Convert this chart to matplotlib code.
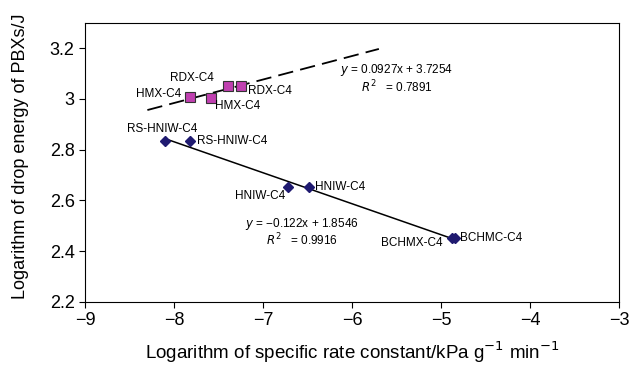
import matplotlib.pyplot as plt

plt.rcParams['font.family'] = ['Liberation Sans', 'DejaVu Sans']

# donnees
sq_x = [-7.82, -7.59, -7.40, -7.25]
sq_y = [3.007, 3.003, 3.052, 3.050]
sq_lab = ['HMX-C4', 'HMX-C4', 'RDX-C4', 'RDX-C4']

di_x = [-8.10, -7.82, -6.72, -6.49, -4.88, -4.85]
di_y = [2.835, 2.835, 2.652, 2.652, 2.450, 2.450]
di_lab = ['RS-HNIW-C4', 'RS-HNIW-C4', 'HNIW-C4', 'HNIW-C4', 'BCHMX-C4', 'BCHMC-C4']

# droites de tendance (extremites)
fit1_x = [-8.30, -5.70]
fit1_y = [2.956, 3.197]
fit2_x = [-8.10, -4.86]
fit2_y = [2.843, 2.447]

xticks = [-9, -8, -7, -6, -5, -4, -3]
yticks = [2.2, 2.4, 2.6, 2.8, 3.0, 3.2]
yticklabels = ['2.2', '2.4', '2.6', '2.8', '3', '3.2']

fig = plt.figure(figsize=(6.3, 3.68), dpi=100)
ax = fig.add_axes([0.135, 0.18, 0.848, 0.758])

ax.plot(fit1_x, fit1_y, color='black', lw=1.3, dashes=(8.5, 4))
ax.plot(fit2_x, fit2_y, color='black', lw=1.1)

ax.plot(sq_x, sq_y, 's', ms=7, mfc='#c040b0', mec='#333333', mew=0.8, ls='none')
ax.plot(di_x, di_y, 'D', ms=5.5, mfc='#1f1a70', mec='#1f1a70', ls='none')

fs = 8.5
# etiquettes des points
ax.text(-7.80, 3.082, 'RDX-C4', fontsize=fs, ha='center', va='center')
ax.text(-8.17, 3.018, 'HMX-C4', fontsize=fs, ha='center', va='center')
ax.text(-7.29, 2.972, 'HMX-C4', fontsize=fs, ha='center', va='center')
ax.text(-6.92, 3.033, 'RDX-C4', fontsize=fs, ha='center', va='center')

ax.text(-8.13, 2.880, 'RS-HNIW-C4', fontsize=fs, ha='center', va='center')
ax.text(-7.74, 2.833, 'RS-HNIW-C4', fontsize=fs, ha='left', va='center')
ax.text(-7.03, 2.616, 'HNIW-C4', fontsize=fs, ha='center', va='center')
ax.text(-6.42, 2.653, 'HNIW-C4', fontsize=fs, ha='left', va='center')
ax.text(-5.33, 2.432, 'BCHMX-C4', fontsize=fs, ha='center', va='center')
ax.text(-4.79, 2.450, 'BCHMC-C4', fontsize=fs, ha='left', va='center')

# equations
ax.text(-5.50, 3.112, '$y$ = 0.0927x + 3.7254', fontsize=fs, ha='center', va='center')
ax.text(-5.50, 3.046, '$R^2$   = 0.7891', fontsize=fs, ha='center', va='center')
ax.text(-6.56, 2.505, '$y$ = \u22120.122x + 1.8546', fontsize=fs, ha='center', va='center')
ax.text(-6.56, 2.442, '$R^2$   = 0.9916', fontsize=fs, ha='center', va='center')

ax.set_xlim(-9, -3)
ax.set_ylim(2.2, 3.3)
ax.set_xticks(xticks)
ax.set_xticklabels(['\u2212%d' % abs(t) for t in xticks])
ax.set_yticks(yticks)
ax.set_yticklabels(yticklabels)
ax.tick_params(labelsize=13, length=4, width=0.8, direction='out')
for s in ax.spines.values():
    s.set_linewidth(0.8)

ax.set_xlabel('Logarithm of specific rate constant/kPa g$^{-1}$ min$^{-1}$', fontsize=13.5)
ax.set_ylabel('Logarithm of drop energy of PBXs/J', fontsize=13)
ax.xaxis.set_label_coords(0.5, -0.135)
ax.yaxis.set_label_coords(-0.105, 0.52)

fig.savefig('out.png', dpi=100)
